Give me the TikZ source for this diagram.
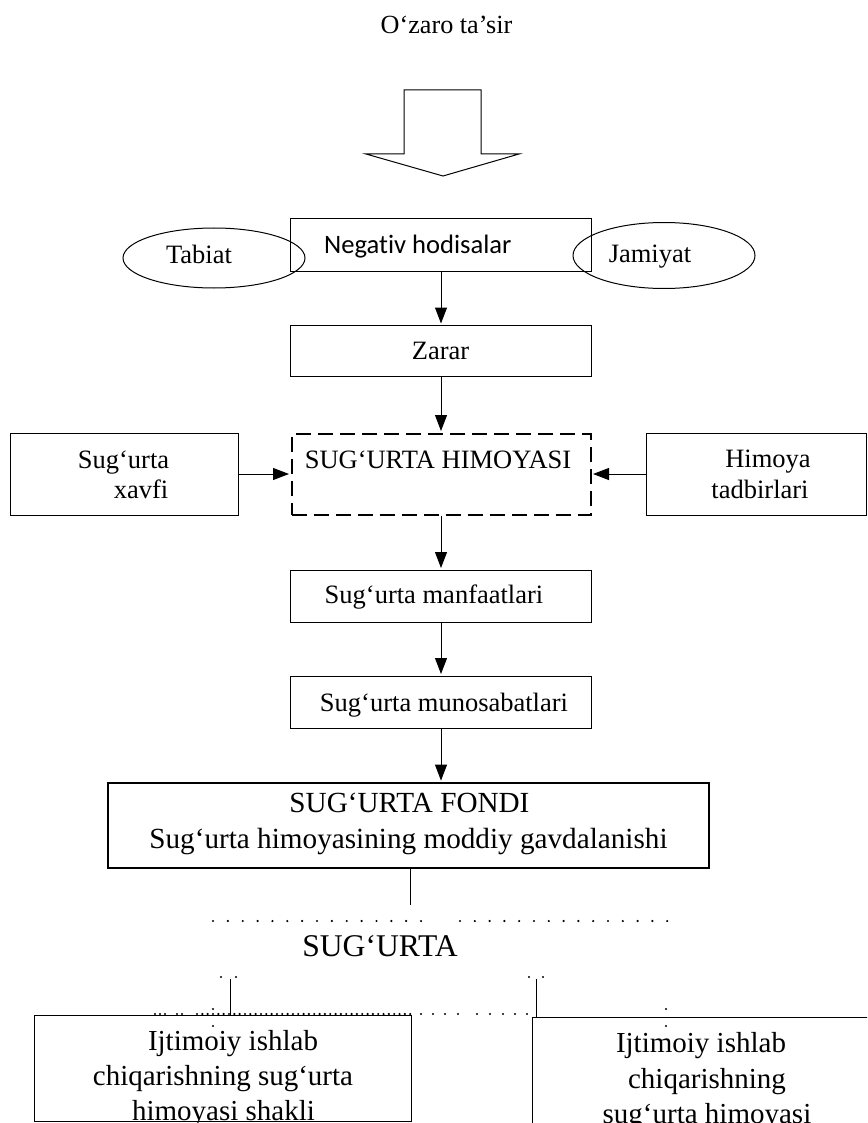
\documentclass[tikz,border=0pt]{standalone}
\usepackage{fontspec}
\setmainfont{Liberation Serif}
\newfontfamily\calibrifont[Ligatures=NoCommon]{Carlito}
\usetikzlibrary{arrows.meta,shapes.geometric}

\begin{document}
\begin{tikzpicture}[x=1pt,y=-1pt,
  box/.style={draw, line width=1pt, inner sep=0pt},
  oval/.style={draw, ellipse, line width=1pt, inner sep=0pt, minimum width=182pt},
  txt/.style={anchor=base, inner sep=0pt, font=\fontsize{26.5}{30}\selectfont},
  bigtxt/.style={anchor=base, inner sep=0pt, font=\fontsize{29}{35}\selectfont},
  flow/.style={draw, line width=1pt, -{Triangle[length=16pt,width=12pt]}, shorten >=1.5pt},
  plain/.style={draw, line width=1pt},
  dotmark/.style={fill=black}
]
\useasboundingbox (0,0) rectangle (867,1123);
\clip (0,0) rectangle (867,1123);

% heading and the big hollow arrow
\node[txt, font=\fontsize{26.2}{30}\selectfont] (title) at (446.5,33.3) {O‘zaro ta’sir};
\draw[line width=1pt, line join=miter]
  (404,154) -- (404,90) -- (481,90) -- (481,154) -- (519,154) -- (443,176) -- (366,154) -- cycle;

% negative events with their two sources
\node[box, minimum width=301pt, minimum height=52pt] (neg) at (441,245) {};
\node[oval, minimum height=60pt] (tabiat) at (214,258) {};
\node[oval, minimum height=66pt] (jamiyat) at (664,255.5) {};
\node[txt, anchor=base west, font=\calibrifont\fontsize{26.6}{30}\selectfont] (negt) at (324,254) {Negativ hodisalar};
\node[txt] (tabiatt) at (199,263) {Tabiat};
\node[txt] (jamiyatt) at (650,262) {Jamiyat};

% damage
\node[box, minimum width=301pt, minimum height=51pt] (zarar) at (441,351) {};
\node[txt] (zarart) at (440.5,359.3) {Zarar};

% insurance protection row
\node[box, line width=2pt, dash pattern=on 15pt off 7pt, minimum width=299pt, minimum height=81pt] (himoya) at (441,474) {};
\node[txt] (himoyat) at (438,468) {SUG‘URTA HIMOYASI};
\node[box, minimum width=228pt, minimum height=82pt] (xavf) at (124,474) {};
\node[txt] (xavft1) at (123.5,468) {Sug‘urta};
\node[txt] (xavft2) at (141,498) {xavfi};
\node[box, minimum width=220pt, minimum height=82pt] (tadbir) at (756,474) {};
\node[txt] (tadbirt1) at (768,467.7) {Himoya};
\node[txt] (tadbirt2) at (760,498) {tadbirlari};

% interests and relations
\node[box, minimum width=301pt, minimum height=52pt] (manf) at (441,596) {};
\node[txt] (manft) at (434,603) {Sug‘urta manfaatlari};
\node[box, minimum width=301pt, minimum height=52pt] (munos) at (441,702) {};
\node[txt] (munost) at (444,711.7) {Sug‘urta munosabatlari};

% insurance fund
\node[box, line width=2pt, minimum width=601pt, minimum height=85pt] (fondi) at (408.5,825.6) {};
\node[bigtxt, font=\fontsize{29.2}{35}\selectfont] (fondit1) at (409.5,812.7) {SUG‘URTA FONDI};
\node[bigtxt, font=\fontsize{29.2}{35}\selectfont] (fondit2) at (408.5,848) {Sug‘urta himoyasining moddiy gavdalanishi};

% connectors of the main column
\draw[flow] (neg.south) -- (zarar.north);
\draw[flow] (zarar.south) -- (himoya.north);
\draw[flow] (xavf.east) -- (himoya.west);
\draw[flow] (tadbir.west) -- (himoya.east);
\draw[flow] (himoya.south) -- (manf.north);
\draw[flow] (manf.south) -- (munos.north);
\draw[flow] (munos.south) -- (munos.south |- fondi.north);
\coordinate (stem) at (410,905);
\draw[plain] (stem |- fondi.south) -- (stem);

% dotted rule above the word SUG'URTA
\foreach \i in {0,...,14} {
  \fill[dotmark] (213+\i*14.86,921) circle[radius=1.2pt];
  \fill[dotmark] (460+\i*14.8,921) circle[radius=1.2pt];
}
\node[txt, font=\fontsize{31.6}{36}\selectfont] (sugurta) at (380,956) {SUG‘URTA};

% the two forms
\node[box, minimum width=377.7pt, minimum height=106.7pt] (lbox) at (222.85,1068.35) {};
\node[box, minimum width=368pt, minimum height=136pt] (rbox) at (716,1085.3) {};
\node[bigtxt] (lt1) at (233,1050) {Ijtimoiy ishlab};
\node[bigtxt] (lt2) at (223,1085) {chiqarishning sug‘urta};
\node[bigtxt] (lt3) at (223.5,1120) {himoyasi shakli};
\node[bigtxt] (rt1) at (701,1052.7) {Ijtimoiy ishlab};
\node[bigtxt] (rt2) at (707,1088) {chiqarishning};
\node[bigtxt] (rt3) at (707,1123.3) {sug‘urta himoyasi};

\coordinate (ltop) at (230,979);
\coordinate (rtop) at (536,979);
\draw[plain] (ltop) -- (ltop |- lbox.north);
\draw[plain] (rtop) -- (rtop |- rbox.north);

% scattered dots round the branch lines
\foreach \p in {(221,977),(236,977),(529,977),(543,977),(213,1009),(213,1026),(666,1009),(666,1026)}
  \fill[dotmark] \p circle[radius=1.2pt];
\foreach \x in {155,160,165,177,182,421,433,445,458,477,490,503,515,527}
  \fill[dotmark] (\x,1014) circle[radius=1.2pt];
\foreach \i in {0,...,40}
  \fill[dotmark] (197+\i*5.33,1014) circle[radius=1.2pt];
\end{tikzpicture}
\end{document}
